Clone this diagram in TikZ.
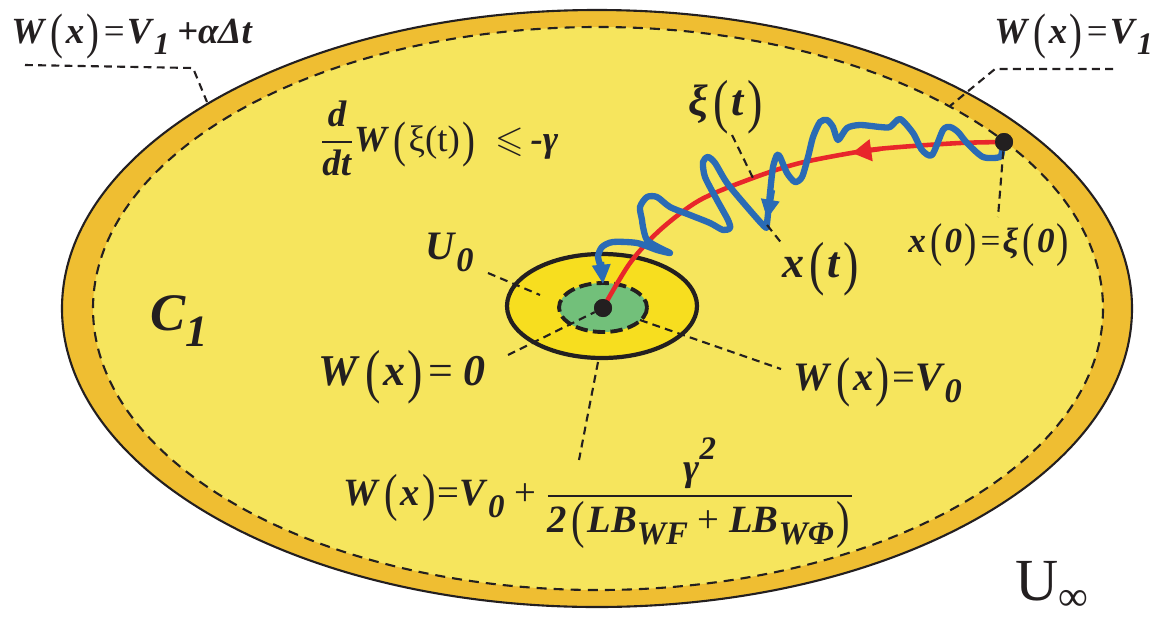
\documentclass[tikz,border=0pt]{standalone}
\usepackage{amsmath,amssymb}
\usepackage{graphicx}
\usepackage{fontspec}
\setmainfont{Liberation Serif}
\usetikzlibrary{arrows.meta,positioning}
\definecolor{ink}{HTML}{231F20}
\definecolor{band}{HTML}{EFBE32}
\definecolor{field}{HTML}{F6E55D}
\definecolor{core}{HTML}{F7DE1F}
\definecolor{goal}{HTML}{72C07A}
\definecolor{detpath}{HTML}{E8262B}
\definecolor{noisepath}{HTML}{2A6BB5}

\newcommand\bi[1]{\textbf{\textit{#1}}}
\newcommand\lpar{\kern0.12em\raisebox{-0.14em}{\scalebox{1.05}[1.35]{\normalfont(}}\kern0.06em}
\newcommand\rpar{\kern0.06em\raisebox{-0.14em}{\scalebox{1.05}[1.35]{\normalfont)}}\kern0.06em}
\newcommand\lo[1]{\raisebox{-0.32em}{\scalebox{0.85}{#1}}}
\newcommand\hi[1]{\raisebox{0.55em}{\scalebox{0.85}{#1}}}
\newcommand\eq{\kern0.06em=\kern0.06em}

\begin{document}
\begin{tikzpicture}[x=0.02cm,y=-0.02cm,>=Triangle]
 \tikzstyle{lab}=[inner sep=0pt,anchor=base west,text=ink,font=\fontsize{21}{25}\selectfont]
 \tikzstyle{lead}=[ink,line width=1.2pt,dash pattern=on 4.5pt off 3pt]
 \tikzstyle{dot}=[circle,fill=ink,inner sep=0pt,minimum size=0.36cm]
 \tikzstyle{redpath}=[detpath,line width=2.6pt]
 \tikzstyle{bluepath}=[noisepath,line width=3.6pt,line cap=round,line join=round]
 \useasboundingbox (0,0) rectangle (1162,619);
 % regions
 \draw[fill=band,draw=ink,line width=1.2pt] (597,308.5) ellipse [x radius=535,y radius=298.5];
 \fill[field] (598,308.5) ellipse [x radius=505,y radius=281.5];
 \draw[ink,line width=1.2pt,dash pattern=on 5.7pt off 4pt] (598,308.5) ellipse [x radius=505,y radius=281.5];
 \draw[fill=core,draw=ink,line width=2.4pt] (602,306) ellipse [x radius=95,y radius=52];
 \draw[fill=goal,draw=ink,line width=2.2pt,dash pattern=on 7pt off 3pt] (603,307.5) ellipse [x radius=44,y radius=24.5];
 % endpoints
 \node[dot] (x0) at (1004,142) {};
 \node[dot] (o) at (603,308) {};
 % trajectories
 \draw[redpath] plot[smooth] coordinates {(x0.center) (960,143) (900,147) (863,151) (800,163) (753,178) (700,200) (660,230) (630,263) (o.center)};
 \draw[redpath,-{Triangle[length=11pt,width=12pt]}] (880,149) -- (852,153);
 \draw[bluepath] plot[smooth,tension=0.45] coordinates {(1002,148) (1000,157) (983,157) (967,143) (958,132) (950,127) (943,130) (932,155) (922,150) (913,133) (900,119) (890,127) (880,127) (860,125) (847,128) (838,140) (833,127) (827,120) (820,122) (813,137) (808,157) (802,177) (795,182) (787,173) (780,157) (777,155) (773,167) (770,193) (767,223) (765,227) (747,207) (727,183) (715,163) (708,157) (703,162) (705,177) (717,200) (728,220) (730,228) (723,230) (710,223) (690,215) (670,207) (657,197) (647,197) (640,207) (642,220) (643,227) (647,240) (660,248) (670,253) (657,250) (637,243) (613,242) (602,247) (598,257) (602,270)};
 \draw[bluepath,line cap=butt,-{Triangle[length=11pt,width=10pt]}] (772,190) -- (767,219);
 \draw[bluepath,line cap=butt,-{Triangle[length=11pt,width=10pt]}] (601,262) -- (603,284);
 \node[dot] at (x0) {};
 \node[dot] at (o) {};
 % leaders
 \coordinate (lv1s) at (25,65);
 \coordinate (lv1k) at (193,68);
 \coordinate (lv1e) at (207,102);
 \coordinate (lvs) at (1113,69);
 \coordinate (lvk) at (995,69);
 \coordinate (lve) at (950,106);
 \coordinate (lx0) at (998,217);
 \coordinate (lxia) at (732,135);
 \coordinate (lxib) at (753,178);
 \coordinate (lxa) at (767,225);
 \coordinate (lxb) at (783,245);
 \coordinate (lua) at (488,273);
 \coordinate (lub) at (540,295);
 \coordinate (lw0) at (508,355);
 \coordinate (lv0a) at (640,320);
 \coordinate (lv0b) at (781,369);
 \coordinate (lba) at (598,362);
 \coordinate (lbb) at (579,460);
 \draw[lead] (lv1s) -- (lv1k) -- (lv1e);
 \draw[lead] (lvs) -- (lvk) -- (lve);
 \draw[lead] (x0) -- (lx0);
 \draw[lead] (lxia) -- (lxib);
 \draw[lead] (lxa) -- (lxb);
 \draw[lead] (lua) -- (lub);
 \draw[lead] (lw0) -- (o);
 \draw[lead] (lv0a) -- (lv0b);
 \draw[lead] (lba) -- (lbb);
 % labels
 \node[lab] (wv1a) at (11,43) {\bi{W}\lpar\bi{x}\rpar\eq\bi{V}\lo{\bi{1}}\kern0.2em\bi{+αΔt}};
 \node[lab] (wv1) at (994,43) {\bi{W}\lpar\bi{x}\rpar\eq\bi{V}\lo{\bi{1}}};
 \node[lab] (dw) at (320,151) {$\dfrac{\text{\bi{d}}}{\text{\bi{dt}}}$\bi{W}\lpar ξ(t)\rpar\ \ $\leqslant$\,\bi{-γ}};
 \node[lab,font=\fontsize{25}{30}\selectfont] (xi) at (688,115) {\bi{ξ}\lpar\bi{t}\rpar};
 \node[lab,font=\fontsize{25}{30}\selectfont] (xt) at (782,277) {\bi{x}\lpar\bi{t}\rpar};
 \node[lab,font=\fontsize{20}{24}\selectfont] (x0l) at (908,252) {\bi{x}\lpar\bi{0}\rpar\eq\bi{ξ}\lpar\bi{0}\rpar};
 \node[lab,font=\fontsize{23}{27}\selectfont] (u0) at (425,259) {\bi{U}\lo{\bi{0}}};
 \node[lab,font=\fontsize{25}{30}\selectfont] (w0) at (318,385) {\bi{W}\lpar\bi{x}\rpar\eq\,\bi{0}};
 \node[lab,font=\fontsize{23}{27}\selectfont] (wv0) at (793,390) {\bi{W}\lpar\bi{x}\rpar=\bi{V}\lo{\bi{0}}};
 \node[lab,font=\fontsize{22}{26}\selectfont] (wlev) at (343,505) {\bi{W}\lpar\bi{x}\rpar=\bi{V}\lo{\bi{0}} + $\dfrac{\text{\bi{γ}\hi{\bi{2}}}}{\text{\bi{2}\lpar\bi{LB}\lo{\bi{WF}} + \bi{LB}\lo{\bi{WΦ}}\rpar}}$};
 \node[lab,font=\fontsize{30}{36}\selectfont] (c1) at (150,330) {\bi{C}\lo{\bi{1}}};
 \node[lab,font=\fontsize{34}{40}\selectfont] (uinf) at (1015,600) {U\raisebox{-0.18em}{\scalebox{0.7}{∞}}};
\end{tikzpicture}
\end{document}
